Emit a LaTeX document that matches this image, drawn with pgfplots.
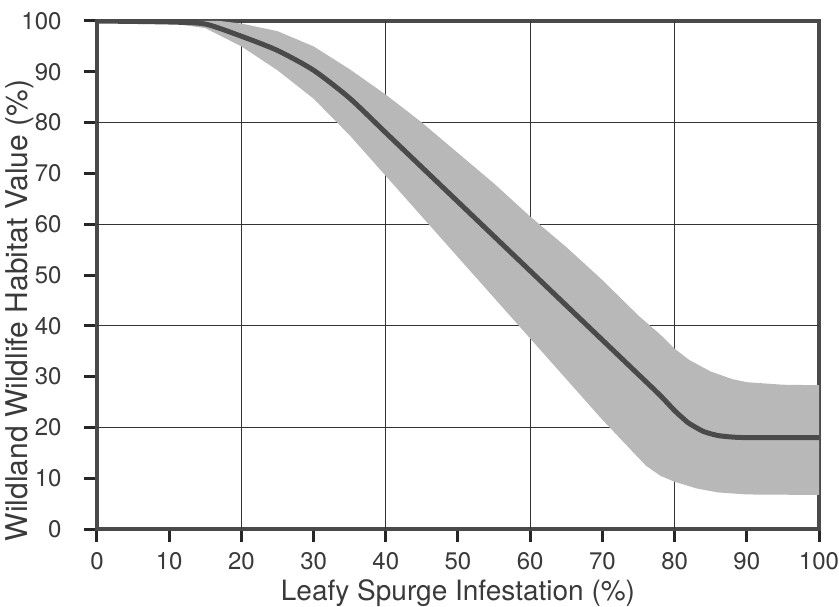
\documentclass[border=0pt]{standalone}
\usepackage{fontspec}
\setmainfont{TeX Gyre Heros}
\usepackage{pgfplots}
\pgfplotsset{compat=1.18}

\definecolor{frame}{HTML}{4A4A4A}
\definecolor{band}{HTML}{B8B8B8}
\definecolor{txt}{HTML}{3A3A3A}

\begin{document}
\begin{tikzpicture}
\begin{axis}[
    at={(0pt,0pt)}, anchor=origin,
    width=722pt, height=508pt, scale only axis,
    xmin=0, xmax=100, ymin=0, ymax=100,
    xtick={0,10,...,100}, ytick={0,10,...,100},
    extra x ticks={20,40,60,80}, extra y ticks={20,40,60,80},
    extra x tick labels={}, extra y tick labels={},
    extra tick style={grid=major, major tick length=0pt},
    grid style={line width=1.2pt, color=black!80},
    tick align=outside, xtick pos=bottom, ytick pos=left,
    major tick length=13pt,
    every tick/.style={line width=3pt, color=black!85},
    axis line style={line width=4pt, color=frame},
    /pgf/number format/assume math mode=true,
    tick label style={font=\fontsize{24}{26}\selectfont, color=txt},
    xticklabel style={yshift=-7pt},
    yticklabel style={xshift=-19pt},
    label style={font=\fontsize{28}{30}\selectfont, color=txt},
    xlabel={Leafy Spurge Infestation (\%)},
    ylabel={Wildland Wildlife Habitat Value (\%)},
    xlabel style={at={(axis description cs:0.5,0)}, anchor=base, yshift=-71pt},
    ylabel style={at={(axis description cs:0,0.43)}, anchor=base, yshift=69pt,
        font=\fontsize{30}{32}\selectfont},
]
% uncertainty band: upper edge then lower edge reversed
\addplot[fill=band, draw=none] coordinates {
    (14,100) (17,100) (20,99.5) (25,98) (30,95) (35,90.5) (40,85.5) (45,80)
    (50,74) (55,68) (60,61.5) (65,55.5) (70,49) (75,42) (78,38.3) (80,35.5)
    (82,33.3) (85,31) (88,29.5) (90,28.9) (95,28.4) (100,28.3)
    (100,6.7) (90,6.8) (86,7.2) (83,8) (80,9.3) (78,10.5) (76,12.5) (73,17)
    (70,21.5) (65,29.5) (60,37.5) (55,45.5) (50,53.5) (45,61.5) (40,69.5)
    (35,77.5) (30,84.7) (25,90.3) (20,95) (15,98.6) (10,99.6)
} -- cycle;
% mean response
\addplot[line width=5pt, color=frame, smooth, tension=0.4] coordinates {
    (0,100) (10,99.8) (15,99.4) (20,97) (25,94.2) (30,90.3) (35,84.8)
    (40,78) (45,71.2) (50,64.4) (55,57.6) (60,50.8) (65,44) (70,37.2)
    (75,30.4) (78,26.3) (80,23.3) (81,22) (82,20.8) (84,19.2) (86,18.4)
    (88,18.1) (90,18) (100,18)
};
\end{axis}
\pgfresetboundingbox
\path[use as bounding box] (-97pt,-77pt) rectangle (742pt,529pt);
\end{tikzpicture}
\end{document}
